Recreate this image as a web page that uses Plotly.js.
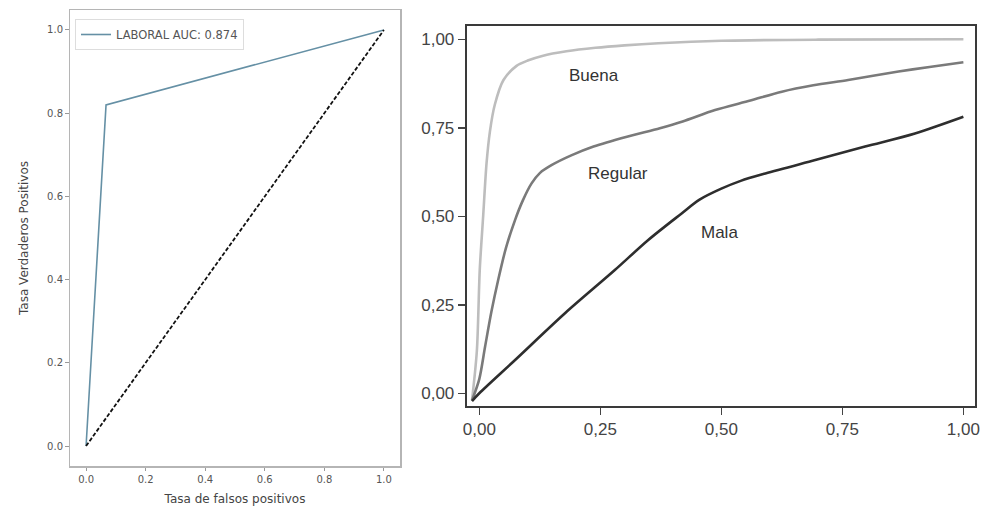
<!DOCTYPE html>
<html>
<head>
<meta charset="utf-8">
<script src="https://cdn.plot.ly/plotly-3.0.1.min.js"></script>
<style>html,body{margin:0;padding:0;background:#fff;}#chart{width:995px;height:506px;}</style>
</head>
<body>
<div id="chart"></div>
<script>
// ---- Left panel data (ROC LABORAL) ----
const rocX = [0, 0.067, 1];
const rocY = [0, 0.82, 1];
const diagX = [0, 1];
const diagY = [0, 1];
const rocName = "LABORAL AUC: 0.874";
const leftTicks = [0, 0.2, 0.4, 0.6, 0.8, 1.0];

// ---- Right panel data (Buena / Regular / Mala) ----
const buenaX = [-0.015, -0.005, 0.001, 0.008, 0.015, 0.022, 0.032, 0.05, 0.077, 0.1, 0.13, 0.18, 0.24, 0.3, 0.37, 0.5, 0.7, 1.0];
const buenaY = [-0.02, 0.12, 0.35, 0.5, 0.65, 0.74, 0.815, 0.885, 0.925, 0.94, 0.953, 0.966, 0.976, 0.983, 0.989, 0.996, 0.999, 1.0];
const regularX = [-0.015, 0.0, 0.012, 0.025, 0.039, 0.055, 0.074, 0.09, 0.108, 0.125, 0.15, 0.19, 0.236, 0.305, 0.373, 0.42, 0.487, 0.56, 0.625, 0.69, 0.762, 0.866, 0.93, 1.0];
const regularY = [-0.02, 0.04, 0.132, 0.23, 0.32, 0.41, 0.49, 0.545, 0.593, 0.622, 0.645, 0.672, 0.697, 0.725, 0.749, 0.768, 0.80, 0.827, 0.852, 0.87, 0.885, 0.909, 0.922, 0.935];
const malaX = [-0.015, 0.0, 0.074, 0.177, 0.28, 0.349, 0.418, 0.455, 0.5, 0.54, 0.591, 0.694, 0.797, 0.9, 1.0];
const malaY = [-0.022, 0.0, 0.094, 0.226, 0.348, 0.433, 0.508, 0.547, 0.578, 0.6, 0.621, 0.659, 0.697, 0.734, 0.781];
const curveLabels = ["Buena", "Regular", "Mala"];
const labelX = [0.236, 0.287, 0.497];
const labelY = [0.899, 0.621, 0.453];
const rightTickVals = [0, 0.25, 0.5, 0.75, 1.0];
const rightTickText = ["0,00", "0,25", "0,50", "0,75", "1,00"];

const W = 995, H = 506;
const px = v => v / W;
const py = v => (H - v) / H;

const traces = [
  {x: rocX, y: rocY, xaxis: 'x', yaxis: 'y', mode: 'lines', name: rocName,
   line: {color: '#6590a5', width: 1.6}, showlegend: true},
  {x: diagX, y: diagY, xaxis: 'x', yaxis: 'y', mode: 'lines',
   line: {color: '#111', width: 1.8, dash: '4px,2px'}, showlegend: false},
  {x: buenaX, y: buenaY, xaxis: 'x2', yaxis: 'y2', mode: 'lines',
   line: {color: '#bdbdbd', width: 2.6, shape: 'spline', smoothing: 0.8}, showlegend: false},
  {x: regularX, y: regularY, xaxis: 'x2', yaxis: 'y2', mode: 'lines',
   line: {color: '#7a7a7a', width: 2.6, shape: 'spline', smoothing: 0.8}, showlegend: false},
  {x: malaX, y: malaY, xaxis: 'x2', yaxis: 'y2', mode: 'lines',
   line: {color: '#2e2e2e', width: 2.6, shape: 'spline', smoothing: 0.9}, showlegend: false}
];

const annotations = curveLabels.map((t, i) => ({
  x: labelX[i], y: labelY[i], xref: 'x2', yref: 'y2', text: t, showarrow: false,
  font: {family: 'Liberation Sans, Arial, sans-serif', size: 17, color: '#333'}
}));

const leftFont = {family: 'DejaVu Sans, sans-serif', size: 10, color: '#555'};
const leftTitleFont = {family: 'DejaVu Sans, sans-serif', size: 12, color: '#444'};

const layout = {
  width: W, height: H,
  margin: {l: 0, r: 0, t: 0, b: 0},
  paper_bgcolor: '#fff', plot_bgcolor: '#fff',
  showlegend: true,
  legend: {x: px(75), y: py(19), xanchor: 'left', yanchor: 'top',
           bgcolor: '#fff', bordercolor: '#ddd', borderwidth: 1,
           font: {family: 'DejaVu Sans, sans-serif', size: 11.5, color: '#555'},
           itemwidth: 30, tracegroupgap: 0},
  xaxis: {domain: [px(70), px(400)], range: [-0.054, 1.054], anchor: 'y',
          tickvals: leftTicks, tickformat: '.1f', ticks: 'outside', ticklen: 3.5, tickcolor: '#999',
          tickfont: leftFont, showgrid: false, zeroline: false,
          showline: true, mirror: true, linecolor: '#b5b5b5', linewidth: 1.5,
          title: {text: 'Tasa de falsos positivos', standoff: 11, font: leftTitleFont}},
  yaxis: {domain: [py(466), py(10)], range: [-0.048, 1.048], anchor: 'x',
          tickvals: leftTicks, tickformat: '.1f', ticks: 'outside', ticklen: 3.5, tickcolor: '#999',
          tickfont: leftFont, showgrid: false, zeroline: false,
          showline: true, mirror: true, linecolor: '#b5b5b5', linewidth: 1.5,
          title: {text: 'Tasa Verdaderos Positivos', standoff: 16, font: leftTitleFont}},
  xaxis2: {domain: [px(466.7), px(975)], range: [-0.026, 1.024], anchor: 'y2',
           tickvals: rightTickVals, ticktext: rightTickText, ticks: 'outside', ticklen: 7, tickwidth: 1.5, tickcolor: '#444',
           tickfont: {family: 'Liberation Sans, Arial, sans-serif', size: 17, color: '#444'},
           showgrid: false, zeroline: false,
           showline: true, mirror: true, linecolor: '#3a3a3a', linewidth: 2},
  yaxis2: {domain: [py(406), py(26)], range: [-0.036, 1.0376], anchor: 'x2',
           tickvals: rightTickVals, ticktext: rightTickText, ticks: 'outside', ticklen: 7, tickwidth: 1.5, tickcolor: '#444',
           tickfont: {family: 'Liberation Sans, Arial, sans-serif', size: 17, color: '#444'},
           showgrid: false, zeroline: false,
           showline: true, mirror: true, linecolor: '#3a3a3a', linewidth: 2},
  annotations: annotations
};

Plotly.newPlot('chart', traces, layout, {displayModeBar: false, staticPlot: true});
</script>
</body>
</html>
